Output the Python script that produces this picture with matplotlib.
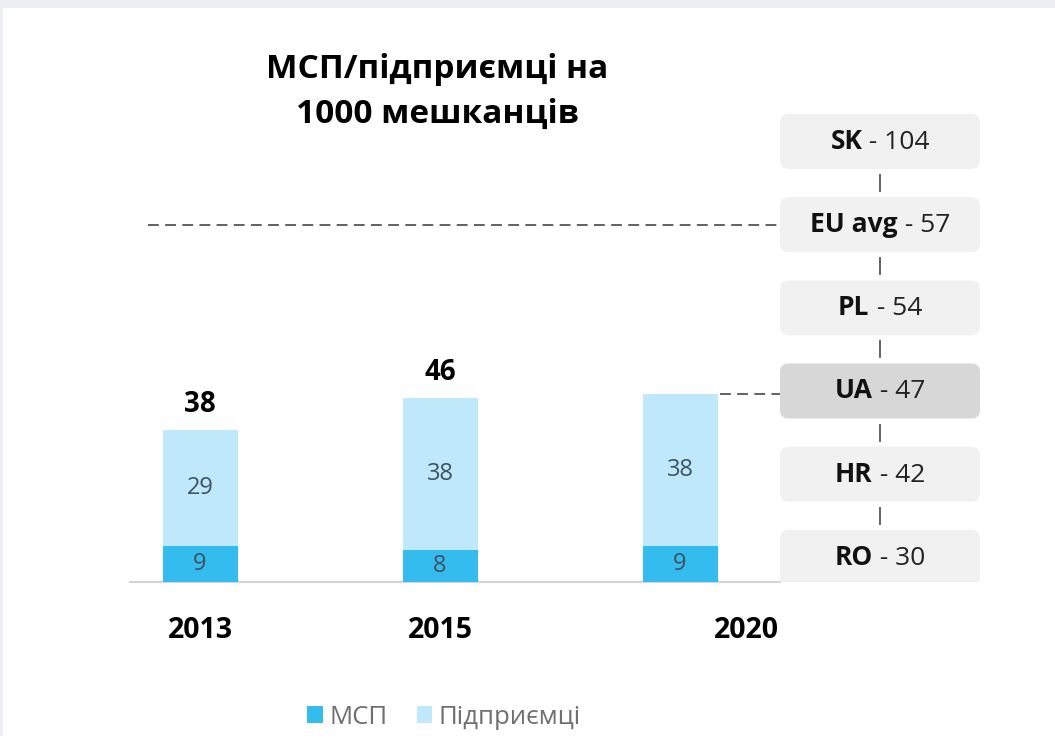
import matplotlib
matplotlib.use("Agg")
import matplotlib.pyplot as plt
from matplotlib.patches import FancyBboxPatch, Rectangle
from matplotlib.offsetbox import TextArea, HPacker, AnnotationBbox

# ---------------- data ----------------
years = ["2013", "2015", "2020"]
msp = [9, 8, 9]
entrepreneurs = [29, 38, 38]
totals = [38, 46, None]          # 2020 total shown in UA box instead
countries = ["SK", "EU avg", "PL", "UA", "HR", "RO"]
country_values = [104, 57, 54, 47, 42, 30]
title_lines = ["МСП/підприємці на", "1000 мешканців"]
legend_labels = ["МСП", "Підприємці"]

# ---------------- style ----------------
FONT = ["Open Sans", "DejaVu Sans"]
plt.rcParams["font.family"] = FONT
C_DARK = "#35bcef"
C_LIGHT = "#bfe8fb"
C_INNER = "#3e5262"
C_BOX = "#f1f1f1"
C_BOX_HI = "#d7d7d7"
C_LINE = "#555555"

W, H = 1055, 736
fig = plt.figure(figsize=(W / 100, H / 100), dpi=100)
fig.patch.set_facecolor("#eceef3")
# white slide panel (behind everything)
panel = Rectangle((3 / W, 0), 1, 1 - 8 / H, transform=fig.transFigure,
                  fc="white", ec="none", zorder=-10)
fig.patches.append(panel)

# axes mapped so that baseline is at pixel row 582 and 4 px per unit
ax_left_px, ax_right_px = 130, 1010
ax_bottom_px, ax_top_px = 582, 100
ax = fig.add_axes([ax_left_px / W, (H - ax_bottom_px) / H,
                   (ax_right_px - ax_left_px) / W, (ax_bottom_px - ax_top_px) / H])
ax.set_zorder(1)
px_per_unit_y = 4.0
px_per_unit_x = 240.0
x0_px = 200
ax.set_xlim((ax_left_px - x0_px) / px_per_unit_x, (ax_right_px - x0_px) / px_per_unit_x)
ax.set_ylim(0, (ax_bottom_px - ax_top_px) / px_per_unit_y)
ax.axis("off")

xs = list(range(len(years)))
bw = 75 / px_per_unit_x
b1 = ax.bar(xs, msp, width=bw, color=C_DARK, label=legend_labels[0], zorder=3)
b2 = ax.bar(xs, entrepreneurs, width=bw, bottom=msp, color=C_LIGHT,
            label=legend_labels[1], zorder=3)

year_label_x = [0, 1, (746 - x0_px) / px_per_unit_x]
for x, m, e, t in zip(xs, msp, entrepreneurs, totals):
    ax.text(x, m / 2, str(m), ha="center", va="center", fontsize=17,
            color=C_INNER, zorder=4)
    ax.text(x, m + e / 2, str(e), ha="center", va="center", fontsize=17,
            color=C_INNER, zorder=4)
    if t is not None:
        ax.text(x, m + e + 6.5, str(t), ha="center", va="center", fontsize=20,
                fontweight="bold", color="black", zorder=4)
    ax.text(year_label_x[x], -(638 - ax_bottom_px) / px_per_unit_y, years[x],
            ha="center", va="baseline", fontsize=20.5,
            fontweight="bold", color="black", clip_on=False)

# ---------------- ladder of country boxes ----------------
box_cx = (880 - x0_px) / px_per_unit_x
box_w = 200 / px_per_unit_x
box_h = 55 / px_per_unit_y
step = 83.2 / px_per_unit_y
ua_idx = countries.index("UA")
ua_center = msp[-1] + entrepreneurs[-1] + 0.75
centers = [ua_center + (ua_idx - i) * step for i in range(len(countries))]
box_left = box_cx - box_w / 2

# baseline
ax.plot([ax.get_xlim()[0], box_left], [0, 0], color="#d4d4d4", lw=1.5,
        zorder=2, clip_on=False)

for i, (c, v, cy) in enumerate(zip(countries, country_values, centers)):
    fc = C_BOX_HI if c == "UA" else C_BOX
    patch = FancyBboxPatch((box_left, cy - box_h / 2), box_w, box_h,
                           boxstyle="round,pad=0,rounding_size=0.035",
                           mutation_aspect=px_per_unit_x / px_per_unit_y,
                           fc=fc, ec="none", zorder=1)
    ax.add_patch(patch)
    t1 = TextArea(c, textprops=dict(fontsize=19, fontweight="bold",
                                    color="#111111", family=FONT))
    t2 = TextArea(" - " + str(v), textprops=dict(fontsize=19, color="#222222",
                                                 family=FONT))
    pk = HPacker(children=[t1, t2], align="baseline", pad=0, sep=0)
    ab = AnnotationBbox(pk, (box_cx, cy), frameon=False,
                        box_alignment=(0.5, 0.5), zorder=5)
    ax.add_artist(ab)
    if i < len(countries) - 1:
        gap_top = cy - box_h / 2
        gap_bot = centers[i + 1] + box_h / 2
        mid = (gap_top + gap_bot) / 2
        ax.plot([box_cx, box_cx], [mid - 8 / px_per_unit_y, mid + 8 / px_per_unit_y],
                color=C_LINE, lw=1.3, zorder=2)

# dashed reference lines
eu_idx = countries.index("EU avg")
ax.plot([(148 - x0_px) / px_per_unit_x, box_left], [centers[eu_idx]] * 2,
        color=C_LINE, lw=1.3, ls=(0, (6, 3.5)), zorder=2)
ax.plot([xs[-1] + bw / 2 + 2 / px_per_unit_x, box_left],
        [msp[-1] + entrepreneurs[-1]] * 2,
        color=C_LINE, lw=1.3, ls=(0, (6, 3.5)), zorder=2)

# ---------------- title ----------------
fig.text(437 / W, 1 - 78 / H, title_lines[0], ha="center", va="baseline",
         fontsize=24, fontweight="bold", color="black", zorder=2)
fig.text(437 / W, 1 - 123 / H, title_lines[1], ha="center", va="baseline",
         fontsize=24, fontweight="bold", color="black", zorder=2)

# ---------------- legend ----------------
leg = fig.legend(handles=[b1, b2], labels=legend_labels, loc="center",
                 bbox_to_anchor=(444 / W, 1 - 717 / H), ncol=2, frameon=False,
                 fontsize=18.5, handlelength=0.6, handleheight=0.6,
                 handletextpad=0.25, columnspacing=1.15, labelcolor="#6f6f6f")
leg.set_zorder(2)

fig.savefig("out.png", dpi=100, facecolor=fig.get_facecolor())
